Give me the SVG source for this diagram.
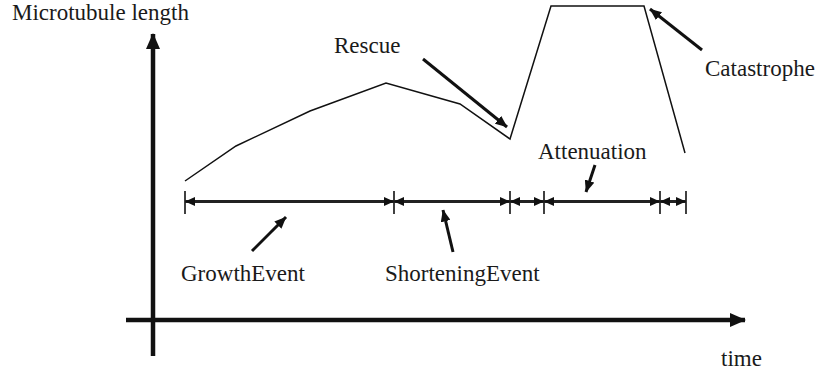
<svg xmlns="http://www.w3.org/2000/svg" width="820" height="372" viewBox="0 0 820 372">
<defs>
<marker id="big" markerUnits="userSpaceOnUse" viewBox="0 0 16 14" markerWidth="16" markerHeight="14" refX="15" refY="7" orient="auto"><path d="M0,0 L16,7 L0,14 z" fill="#111"/></marker>
<marker id="ah" markerUnits="userSpaceOnUse" viewBox="0 0 12 10" markerWidth="12" markerHeight="10" refX="11.5" refY="5" orient="auto"><path d="M0,0 L12,5 L0,10 z" fill="#111"/></marker>
<marker id="sm" markerUnits="userSpaceOnUse" viewBox="0 0 10 9" markerWidth="10" markerHeight="9" refX="10" refY="4.5" orient="auto-start-reverse"><path d="M0,0 L10,4.5 L0,9 z" fill="#111"/></marker>
</defs>
<g id="axes" stroke="#111" stroke-width="4.5" fill="none">
<line x1="153" y1="356" x2="153" y2="34" marker-end="url(#big)"/>
<line x1="126" y1="320" x2="745" y2="320" marker-end="url(#big)"/>
</g>
<g id="curve" stroke="#111" stroke-width="1.5" fill="none">
<polyline points="185,181 236,146 310,111 386,83 460,104 510,139 551,6 644,6 685,153"/>
</g>
<g id="timeline" fill="none">
<g stroke="#111" stroke-width="1.6">
<line x1="185" y1="191" x2="185" y2="214"/>
<line x1="394" y1="191" x2="394" y2="214"/>
<line x1="510" y1="191" x2="510" y2="214"/>
<line x1="544" y1="191" x2="544" y2="214"/>
<line x1="660" y1="191" x2="660" y2="214"/>
<line x1="686" y1="191" x2="686" y2="214"/>
</g>
<g stroke="#222" stroke-width="3" marker-start="url(#sm)" marker-end="url(#sm)">
<line x1="185" y1="201.5" x2="394" y2="201.5"/>
<line x1="394" y1="201.5" x2="510" y2="201.5"/>
<line x1="510" y1="201.5" x2="544" y2="201.5"/>
<line x1="544" y1="201.5" x2="660" y2="201.5"/>
<line x1="660" y1="201.5" x2="686" y2="201.5"/>
</g>
</g>
<g id="connectors" stroke="#111" stroke-width="3" fill="none" marker-end="url(#ah)">
<line x1="423" y1="59" x2="507" y2="127"/>
<line x1="702" y1="50" x2="650" y2="9"/>
<line x1="595" y1="165" x2="586" y2="192"/>
<line x1="252" y1="251" x2="286" y2="217"/>
<line x1="453" y1="252" x2="443" y2="210"/>
</g>
<g id="labels" font-family="Liberation Serif" font-size="23" fill="#1a1a1a">
<g id="label-ylabel"><text x="12" y="20">Microtubule length</text></g>
<g id="label-rescue"><text x="334" y="53">Rescue</text></g>
<g id="label-catastrophe"><text x="705" y="76">Catastrophe</text></g>
<g id="label-attenuation"><text x="538" y="159">Attenuation</text></g>
<g id="label-growth"><text x="181" y="281">GrowthEvent</text></g>
<g id="label-shortening"><text x="385" y="281">ShorteningEvent</text></g>
<g id="label-time"><text x="721" y="366">time</text></g>
</g>
</svg>
